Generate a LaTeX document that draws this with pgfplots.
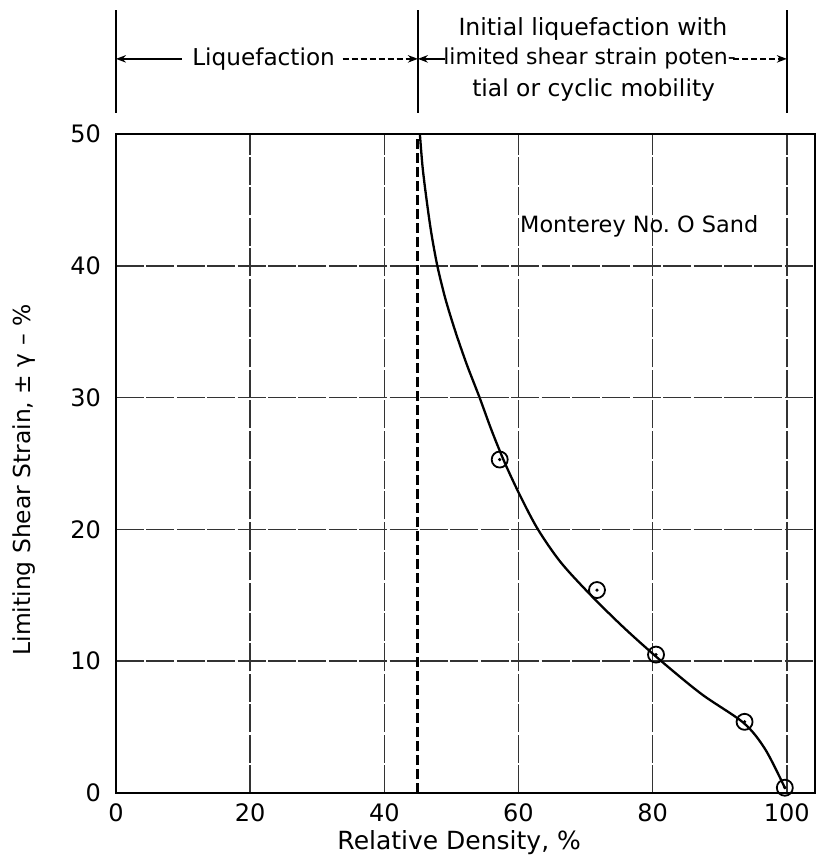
\documentclass[border=0pt]{standalone}
\usepackage{fontspec}
\setmainfont{DejaVu Sans}
\usepackage{pgfplots}
\pgfplotsset{compat=1.18}
\usetikzlibrary{arrows.meta}

\begin{document}
\begin{tikzpicture}
\begin{axis}[name=ax, scale only axis, width=349.5pt, height=329.5pt,
  xmin=0, xmax=104.2, ymin=0, ymax=50,
  xtick={0,20,...,100}, ytick={0,10,...,50},
  major tick length=0pt,
  grid=major,
  grid style={black!80, line width=0.8pt, dash pattern=on 14pt off 1.2pt},
  axis line style={line width=1.4pt},
  tick label style={font=\fontsize{12}{14}\selectfont},
  /pgf/number format/assume math mode=true,
  xticklabel style={yshift=-2pt},
  yticklabel style={xshift=-4pt},
  xlabel={Relative Density, \%},
  ylabel={Limiting Shear Strain, ± γ – \%},
  xlabel style={font=\fontsize{12.5}{14}\selectfont, at={(axis description cs:0.491,-0.076)}, anchor=center},
  ylabel style={font=\fontsize{11.7}{14}\selectfont, at={(axis description cs:-0.132,0.475)}, anchor=center},
  clip=false]

% limiting curve
\addplot[black, line width=1.15pt, smooth, tension=0.5] coordinates {
  (45.3,50) (45.7,47.5) (46.3,45) (47,42.5) (47.9,40) (49.1,37.5) (50.6,35)
  (52.3,32.5) (54.2,30) (56,27.5) (58,25) (60.3,22.5) (62.9,20)
  (66.3,17.5) (70.8,15) (75.8,12.5) (81.3,10) (87.3,7.5) (93.6,5.3)
  (96.8,3.3) (99.7,0.4)};
% boundary
\addplot[black, line width=1.4pt, dash pattern=on 5pt off 2pt] coordinates {(45,0) (45,50)};
% test points
\addplot[only marks, mark=o, mark size=4pt, mark options={fill=white, line width=0.9pt}] coordinates {
  (57.2,25.3) (71.7,15.4) (80.5,10.5) (93.7,5.4) (99.7,0.4)};
\addplot[only marks, mark=*, mark size=0.6pt] coordinates {
  (57.2,25.3) (71.7,15.4) (80.5,10.5) (93.7,5.4) (99.7,0.4)};

\node[font=\fontsize{11.2}{13}\selectfont] at (axis cs:78,43) {Monterey No.\ O Sand};

% zone labels above the plot
\draw[line width=1pt] (axis cs:0,51.6) -- (axis cs:0,59.4);
\draw[line width=1pt] (axis cs:45,51.6) -- (axis cs:45,59.4);
\draw[line width=1pt] (axis cs:100,51.6) -- (axis cs:100,59.4);
\node[font=\fontsize{11.6}{13}\selectfont] at (axis cs:22,55.7) {Liquefaction};
\draw[-{Stealth[length=5pt]}, line width=0.8pt] (axis cs:9.8,55.7) -- (axis cs:0,55.7);
\draw[-{Stealth[length=5pt]}, line width=0.8pt, dash pattern=on 3pt off 1.5pt] (axis cs:33.8,55.7) -- (axis cs:45,55.7);
\node[font=\fontsize{11.8}{13}\selectfont] at (axis cs:71.1,58.0) {Initial liquefaction with};
\node[font=\fontsize{11}{13}\selectfont] at (axis cs:70.6,55.7) {limited shear strain poten-};
\node[font=\fontsize{11.7}{13}\selectfont] at (axis cs:71.2,53.3) {tial or cyclic mobility};
\draw[-{Stealth[length=5pt]}, line width=0.8pt] (axis cs:49,55.7) -- (axis cs:45,55.7);
\draw[-{Stealth[length=5pt]}, line width=0.8pt, dash pattern=on 3pt off 1.5pt] (axis cs:92,55.7) -- (axis cs:100,55.7);
\end{axis}
\pgfresetboundingbox
\path ([shift={(-58pt,-34pt)}]ax.south west) rectangle ([shift={(1pt,67pt)}]ax.north east);
\end{tikzpicture}
\end{document}
